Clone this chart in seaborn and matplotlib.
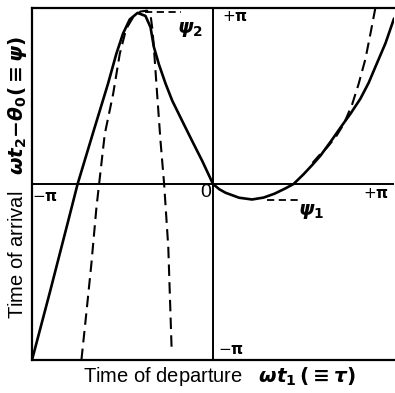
import numpy as np
import pandas as pd
import matplotlib
matplotlib.use("Agg")
import matplotlib.pyplot as plt
import seaborn as sns

# values in units of pi (tau/pi, psi/pi)
solid_tau = [-1.0, -0.90, -0.80, -0.748, -0.66, -0.58, -0.534, -0.497, -0.46, -0.417,
             -0.373, -0.345, -0.327, -0.299, -0.262, -0.225, -0.170, -0.115, -0.059,
             0.0, 0.035, 0.07, 0.144, 0.216, 0.28, 0.34, 0.40, 0.445, 0.50, 0.55,
             0.593, 0.66, 0.704, 0.76, 0.814, 0.86, 0.897, 0.953, 0.99, 1.0]
solid_psi = [-1.0, -0.61, -0.21, 0.0, 0.30, 0.57, 0.74, 0.855, 0.935, 0.972,
             0.955, 0.89, 0.78, 0.68, 0.57, 0.473, 0.358, 0.244, 0.13,
             0.0, -0.03, -0.05, -0.078, -0.088, -0.077, -0.055, -0.025, 0.0, 0.055, 0.11,
             0.16, 0.255, 0.32, 0.40, 0.484, 0.575, 0.665, 0.80, 0.91, 0.94]

# steep dashed approximation around the peak (psi_2)
dash2_tau = [-0.727, -0.70, -0.672, -0.644, -0.598, -0.552, -0.515, -0.48, -0.44, -0.40,
             -0.365, -0.345, -0.335, -0.327, -0.31, -0.29, -0.27, -0.247, -0.229]
dash2_psi = [-1.0, -0.736, -0.454, -0.134, 0.284, 0.51, 0.74, 0.88, 0.95, 0.98,
             0.985, 0.96, 0.88, 0.78, 0.53, 0.244, 0.0, -0.36, -0.925]

# dashed approximation around the minimum (psi_1)
dash1_tau = [0.55, 0.593, 0.63, 0.68, 0.722, 0.768, 0.805, 0.842, 0.87, 0.897]
dash1_psi = [0.12, 0.17, 0.207, 0.27, 0.34, 0.45, 0.57, 0.71, 0.855, 1.0]

psi2_level = 0.975
psi2_span = [-0.377, -0.175]
psi1_level = -0.092
psi1_span = [0.297, 0.482]

sns.set_style("white")
plt.rcParams['font.family'] = ['Liberation Sans', 'DejaVu Sans']
plt.rcParams['mathtext.fontset'] = 'dejavusans'
plt.rcParams['text.color'] = 'black'

fig = plt.figure(figsize=(3.95, 3.93), dpi=100)
ax = fig.add_axes([32 / 395, 1 - 360 / 393, 362 / 395, 352 / 393])

solid = pd.DataFrame({'tau': solid_tau, 'psi': solid_psi})
d2 = pd.DataFrame({'tau': dash2_tau, 'psi': dash2_psi})
d1 = pd.DataFrame({'tau': dash1_tau, 'psi': dash1_psi})

sns.lineplot(data=solid, x='tau', y='psi', sort=False, estimator=None,
             color='black', linewidth=1.9, ax=ax)
sns.lineplot(data=d2, x='tau', y='psi', sort=False, estimator=None,
             color='black', linewidth=1.5, ax=ax, linestyle=(0, (5.5, 3)))
sns.lineplot(data=d1, x='tau', y='psi', sort=False, estimator=None,
             color='black', linewidth=1.5, ax=ax, linestyle=(0, (5.5, 3)))
ax.plot(psi2_span, [psi2_level, psi2_level], color='black', lw=1.3, ls=(0, (4, 2.5)))
ax.plot(psi1_span, [psi1_level, psi1_level], color='black', lw=1.3, ls=(0, (4, 2.5)))

ax.axhline(0, color='black', lw=1.4)
ax.axvline(0, color='black', lw=1.4)

ax.set_xlim(-1, 1)
ax.set_ylim(-1, 1)
ax.set_xticks([])
ax.set_yticks([])
ax.set_xlabel('')
ax.set_ylabel('')
for side in ['left', 'top', 'bottom']:
    ax.spines[side].set_color('black')
    ax.spines[side].set_linewidth(1.6)
ax.spines['right'].set_visible(False)

# pi labels
lab = dict(fontsize=11, fontweight='bold', ha='center', va='center', color='black')
ax.text(-0.93, -0.075, r'$-\mathbf{\pi}$', **lab)
ax.text(0.90, -0.055, r'$+\mathbf{\pi}$', **lab)
ax.text(0.12, 0.95, r'$+\mathbf{\pi}$', **lab)
ax.text(0.10, -0.945, r'$-\mathbf{\pi}$', **lab)
ax.text(-0.04, -0.05, '0', fontsize=14, ha='center', va='center', color='black')
ax.text(-0.125, 0.88, r'$\mathbfit{\psi}_\mathbf{2}$', fontsize=14, ha='center', va='center')
ax.text(0.54, -0.155, r'$\mathbfit{\psi}_\mathbf{1}$', fontsize=14, ha='center', va='center')

fig.text(219 / 395, 1 - 376 / 393,
         r'Time of departure   $\mathbfit{\omega t}_\mathbf{1}\,\mathbf{(\equiv}\mathbfit{\tau}\mathbf{)}$',
         fontsize=14.5, ha='center', va='center', color='black')
fig.text(18 / 395, 1 - 178 / 393,
         r'Time of arrival   $\mathbfit{\omega t}_\mathbf{2}\mathbf{-}\mathbfit{\theta}_\mathbf{0}\mathbf{(\equiv}\mathbfit{\psi}\mathbf{)}$',
         fontsize=14.5, ha='center', va='center', rotation=90, color='black')

fig.savefig('out.png', dpi=100)
